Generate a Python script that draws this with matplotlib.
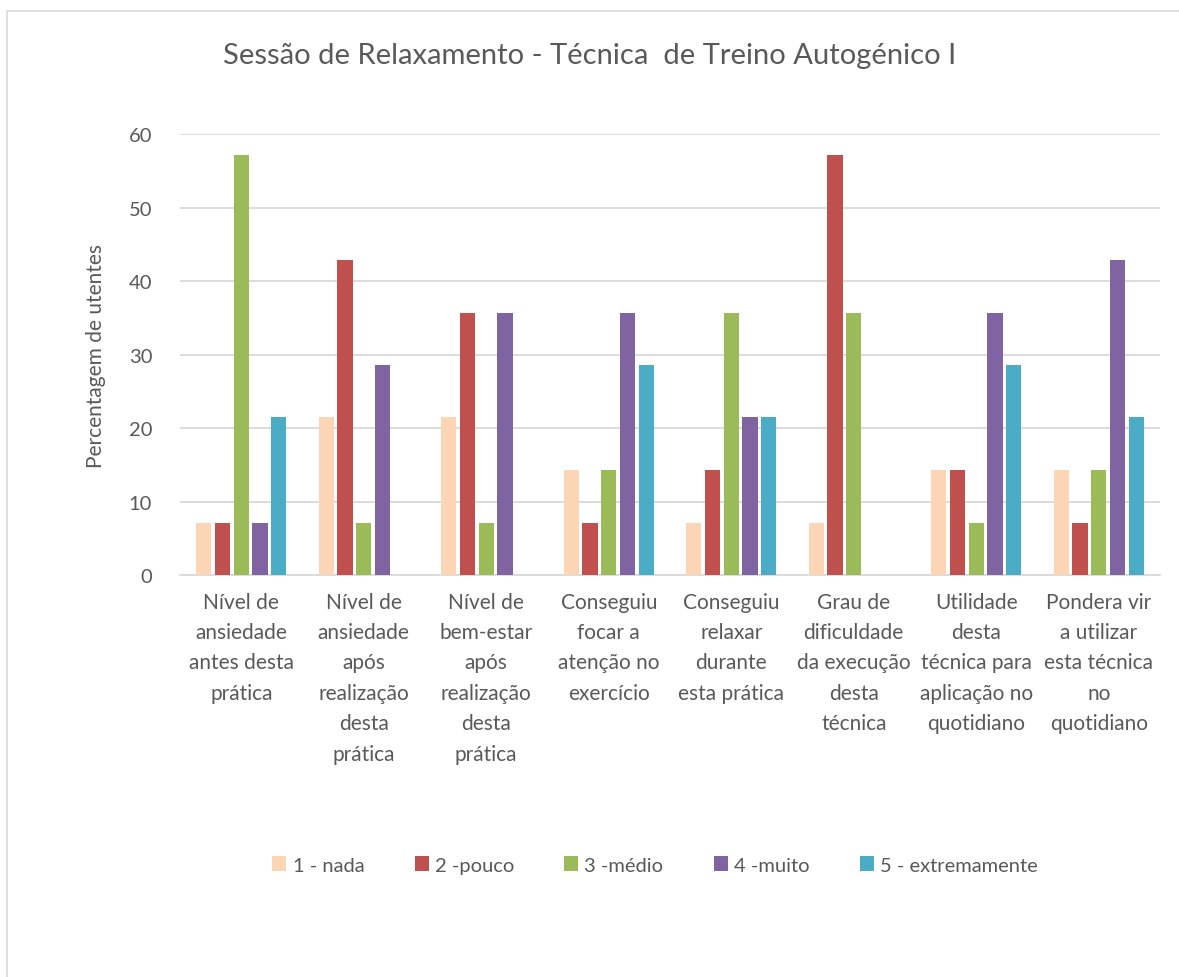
import matplotlib.pyplot as plt
import numpy as np

plt.rcParams['font.family'] = ['Lato', 'DejaVu Sans']

categorias = ['Nível de\nansiedade\nantes desta\nprática',
              'Nível de\nansiedade\napós\nrealização\ndesta\nprática',
              'Nível de\nbem-estar\napós\nrealização\ndesta\nprática',
              'Conseguiu\nfocar a\natenção no\nexercício',
              'Conseguiu\nrelaxar\ndurante\nesta prática',
              'Grau de\ndificuldade\nda execução\ndesta\ntécnica',
              'Utilidade\ndesta\ntécnica para\naplicação no\nquotidiano',
              'Pondera vir\na utilizar\nesta técnica\nno\nquotidiano']

nada = [7.14, 21.43, 21.43, 14.29, 7.14, 7.14, 14.29, 14.29]
pouco = [7.14, 42.86, 35.71, 7.14, 14.29, 57.14, 14.29, 7.14]
medio = [57.14, 7.14, 7.14, 14.29, 35.71, 35.71, 7.14, 14.29]
muito = [7.14, 28.57, 35.71, 35.71, 21.43, 0, 35.71, 42.86]
extremamente = [21.43, 0, 0, 28.57, 21.43, 0, 28.57, 21.43]

series = [nada, pouco, medio, muito, extremamente]
nomes = ['1 - nada', '2 -pouco', '3 -médio', '4 -muito', '5 - extremamente']
cores = ['#FCD5B5', '#C0504D', '#9BBB59', '#8064A2', '#4BACC6']

fig = plt.figure(figsize=(11.79, 9.78), dpi=100)
ax = fig.add_axes([180/1179, 1 - 576/978, 980/1179, 441/978])

x = np.arange(len(categorias))
passo = 0.153
larg = 0.125
for i, (vals, nome, cor) in enumerate(zip(series, nomes, cores)):
    ax.bar(x + (i - 2) * passo, vals, larg, color=cor, label=nome, zorder=3)

ax.set_xlim(-0.5, len(categorias) - 0.5)
ax.set_ylim(0, 60)
ax.set_yticks(range(0, 61, 10))
ax.grid(axis='y', color='#d9d9d9', linewidth=1.3, zorder=0)
for s in ['top', 'right', 'left']:
    ax.spines[s].set_visible(False)
ax.spines['bottom'].set_color('#d9d9d9')
ax.spines['bottom'].set_linewidth(1.3)
ax.tick_params(axis='both', length=0, labelsize=14.5, colors='#595959')
ax.tick_params(axis='y', pad=20)
ax.set_xticks(x)
ax.set_xticklabels(categorias, fontsize=15, color='#595959', linespacing=1.65, va='top')
ax.tick_params(axis='x', pad=12)
ax.set_ylabel('Percentagem de utentes', fontsize=15, color='#595959', labelpad=16)

fig.text(0.5, 1 - 56/978, 'Sessão de Relaxamento - Técnica  de Treino Autogénico I',
         ha='center', va='center', fontsize=21, color='#595959')

fig.legend(loc='center', bbox_to_anchor=(655/1179, 1 - 866/978), ncol=5, frameon=False,
           fontsize=14.5, handlelength=0.7, handleheight=0.7, handletextpad=0.3,
           columnspacing=2.5, labelcolor='#595959')

fig.patches.append(plt.Rectangle((7/1179, -0.01), 1.1, 1 - 12/978 + 0.01, transform=fig.transFigure,
                                 fill=False, edgecolor='#d9d9d9', linewidth=1.2))

fig.savefig('out.png', dpi=100)
